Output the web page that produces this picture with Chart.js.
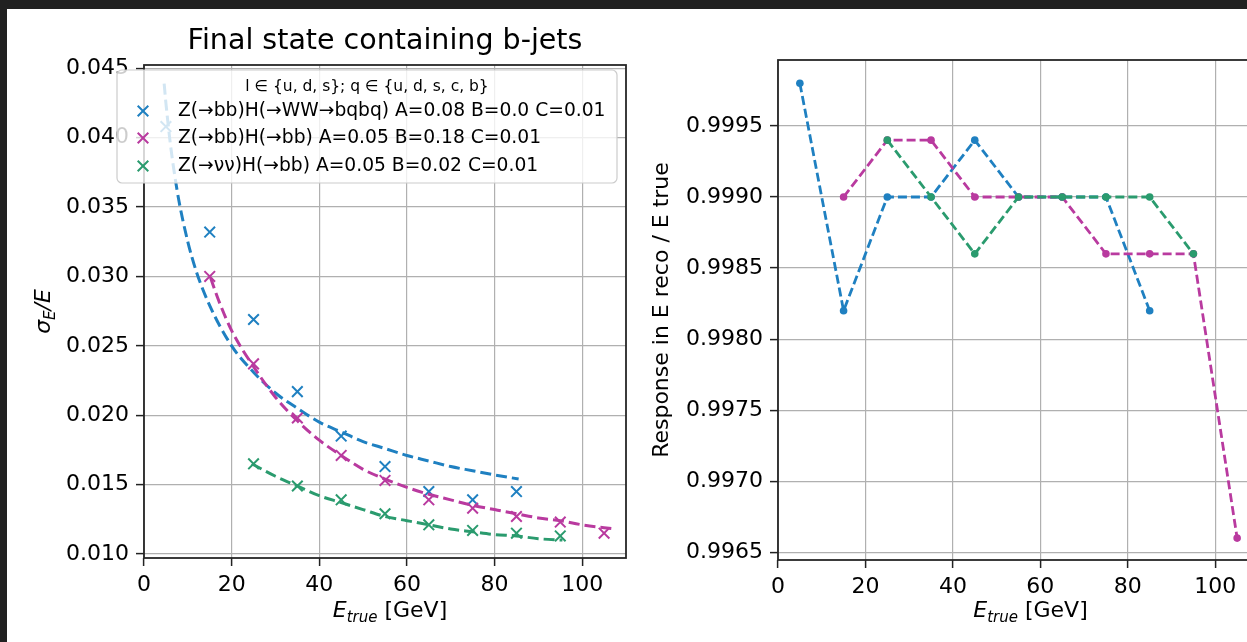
<!DOCTYPE html>
<html>
<head>
<meta charset="utf-8">
<script src="https://cdn.jsdelivr.net/npm/chart.js@4.4.1/dist/chart.umd.min.js"></script>
<style>
  html, body { margin: 0; padding: 0; width: 1247px; height: 642px; overflow: hidden; background: #212121; }
  #sheet { position: absolute; left: 7px; top: 9px; width: 1300px; height: 640px; background: #fff; }
  canvas { position: absolute; }
</style>
</head>
<body>
<div id="sheet"></div>
<canvas id="resChart" width="633" height="633" style="left:7px;top:9px"></canvas>
<canvas id="respChart" width="660" height="633" style="left:640px;top:9px"></canvas>
<script>
// --- data -------------------------------------------------------------
const energiesWW = [5, 15, 25, 35, 45, 55, 65, 75, 85];
const energiesBB = [15, 25, 35, 45, 55, 65, 75, 85, 95, 105];
const energiesNuNu = [25, 35, 45, 55, 65, 75, 85, 95];

// sigma_E / E
const resWW = [0.0408, 0.0332, 0.0269, 0.0217, 0.0185, 0.0163, 0.0145, 0.0139, 0.0145];
const resBB = [0.0300, 0.0237, 0.0198, 0.0171, 0.0153, 0.0139, 0.0133, 0.0127, 0.0123, 0.0115];
const resNuNu = [0.0165, 0.0149, 0.0139, 0.0129, 0.0121, 0.0117, 0.0115, 0.0113];

// fitted resolution curves
const fitWW_E = [4.6, 5, 6, 7, 8, 10, 12, 15, 20, 25, 30, 35, 40, 45, 50, 55, 60, 65, 70, 75, 80, 85.5];
const fitWW = [0.0439, 0.0425, 0.0396, 0.0373, 0.0354, 0.0325, 0.0303, 0.0279, 0.0250, 0.0231, 0.0216,
               0.0205, 0.0195, 0.0188, 0.0181, 0.0176, 0.0171, 0.0167, 0.0163, 0.0160, 0.0157, 0.0154];
const fitBB_E = [15.2, 17, 20, 25, 30, 35, 40, 45, 50, 55, 60, 65, 70, 75, 80, 85, 90, 95, 100, 107.5];
const fitBB = [0.0299, 0.0283, 0.0261, 0.0235, 0.0213, 0.0196, 0.0182, 0.0171, 0.0161, 0.0154,
               0.0148, 0.0143, 0.0139, 0.0135, 0.0132, 0.0129, 0.0126, 0.0124, 0.0121, 0.0118];
const fitNuNu_E = [24.6, 30, 35, 40, 45, 50, 55, 60, 65, 70, 75, 80, 85, 90, 95.5];
const fitNuNu = [0.0165, 0.0156, 0.0149, 0.0142, 0.0137, 0.0132, 0.0127, 0.0124, 0.0121, 0.0118,
                 0.0116, 0.0114, 0.0113, 0.0111, 0.0110];

// E reco / E true
const respWW = [0.9998, 0.9982, 0.9990, 0.9990, 0.9994, 0.9990, 0.9990, 0.9990, 0.9982];
const respBB = [0.9990, 0.9994, 0.9994, 0.9990, 0.9990, 0.9990, 0.9986, 0.9986, 0.9986, 0.9966];
const respNuNu = [0.9994, 0.9990, 0.9986, 0.9990, 0.9990, 0.9990, 0.9990, 0.9986];

const legendTitle = 'l \u2208 {u, d, s}; q \u2208 {u, d, s, c, b}';
const labels = [
  'Z(\u2192bb)H(\u2192WW\u2192bqbq) A=0.08 B=0.0 C=0.01',
  'Z(\u2192bb)H(\u2192bb) A=0.05 B=0.18 C=0.01',
  'Z(\u2192\u03bd\u03bd)H(\u2192bb) A=0.05 B=0.02 C=0.01'
];
const colors = ['#1f80c1', '#b93a9f', '#2a9b6e'];

const FONT = '"DejaVu Sans", sans-serif';
Chart.defaults.font.family = FONT;
Chart.defaults.color = '#000';

const pts = (xs, ys) => xs.map((x, i) => ({ x: x, y: ys[i] }));

// draw a list of text runs centred on cx, baseline y
function drawRich(ctx, parts, cx, y) {
  let total = 0;
  parts.forEach(p => { ctx.font = p.font; total += ctx.measureText(p.text).width; });
  let x = cx - total / 2;
  ctx.textAlign = 'left';
  ctx.textBaseline = 'alphabetic';
  ctx.fillStyle = '#000';
  parts.forEach(p => {
    ctx.font = p.font;
    ctx.fillText(p.text, x, y + (p.dy || 0));
    x += ctx.measureText(p.text).width;
  });
}

function drawFrame(chart) {
  const a = chart.chartArea, ctx = chart.ctx;
  ctx.save();
  ctx.strokeStyle = '#262626';
  ctx.lineWidth = 1.8;
  ctx.strokeRect(a.left, a.top, a.right - a.left, a.bottom - a.top);
  ctx.restore();
}

const eTrue = [
  { text: 'E', font: 'italic 22px ' + FONT },
  { text: 'true', font: 'italic 15px ' + FONT, dy: 5 },
  { text: ' [GeV]', font: '22px ' + FONT }
];

function gridOpts() {
  return { color: '#b0b0b0', lineWidth: 1.2, tickLength: 8, tickColor: '#222', tickWidth: 1.5 };
}

// --- left: energy resolution ------------------------------------------
const resPlugin = {
  id: 'resDecor',
  afterDatasetsDraw(chart) {
    drawFrame(chart);
  },
  afterDraw(chart) {
    const a = chart.chartArea, ctx = chart.ctx;
    const cx = (a.left + a.right) / 2;
    ctx.save();
    ctx.fillStyle = '#000';
    ctx.font = '28.5px ' + FONT;
    ctx.textAlign = 'center';
    ctx.textBaseline = 'alphabetic';
    ctx.fillText('Final state containing b-jets', cx, a.top - 16);
    drawRich(ctx, eTrue, cx + 5, 608);

    ctx.save();
    ctx.translate(43, (a.top + a.bottom) / 2);
    ctx.rotate(-Math.PI / 2);
    drawRich(ctx, [
      { text: '\u03c3', font: 'italic 22px ' + FONT },
      { text: 'E', font: 'italic 15px ' + FONT, dy: 5 },
      { text: '/E', font: 'italic 22px ' + FONT }
    ], 0, 0);
    ctx.restore();

    // legend box
    const bx = 110, by = 61, bw = 500, bh = 113;
    ctx.beginPath();
    ctx.roundRect(bx, by, bw, bh, 5);
    ctx.fillStyle = 'rgba(255,255,255,0.8)';
    ctx.fill();
    ctx.strokeStyle = '#cccccc';
    ctx.lineWidth = 1.2;
    ctx.stroke();

    ctx.fillStyle = '#000';
    ctx.font = '15.5px ' + FONT;
    ctx.textAlign = 'center';
    ctx.textBaseline = 'middle';
    ctx.fillText(legendTitle, 360, 78);

    const rows = [102, 129, 157];
    labels.forEach((t, i) => {
      const mx = 136, my = rows[i], h = 5.3;
      ctx.strokeStyle = colors[i];
      ctx.lineWidth = 2;
      ctx.beginPath();
      ctx.moveTo(mx - h, my - h); ctx.lineTo(mx + h, my + h);
      ctx.moveTo(mx - h, my + h); ctx.lineTo(mx + h, my - h);
      ctx.stroke();
      ctx.fillStyle = '#000';
      ctx.font = '18.7px ' + FONT;
      ctx.textAlign = 'left';
      ctx.textBaseline = 'middle';
      ctx.fillText(t, 171, my);
    });
    ctx.restore();
  }
};

function markerSet(xs, ys, color, order) {
  return {
    data: pts(xs, ys), showLine: false, order: order,
    pointStyle: 'crossRot', pointRadius: 7.5, pointBorderWidth: 2,
    borderColor: color, backgroundColor: color
  };
}
function fitSet(xs, ys, color, order) {
  return {
    data: pts(xs, ys), showLine: true, order: order, pointRadius: 0,
    borderColor: color, borderWidth: 3, borderDash: [11, 5],
    cubicInterpolationMode: 'monotone', fill: false
  };
}

new Chart(document.getElementById('resChart'), {
  type: 'scatter',
  data: {
    datasets: [
      markerSet(energiesWW, resWW, colors[0], 6),
      fitSet(fitWW_E, fitWW, colors[0], 5),
      markerSet(energiesBB, resBB, colors[1], 4),
      fitSet(fitBB_E, fitBB, colors[1], 3),
      markerSet(energiesNuNu, resNuNu, colors[2], 2),
      fitSet(fitNuNu_E, fitNuNu, colors[2], 1)
    ]
  },
  options: {
    responsive: false,
    animation: false,
    events: [],
    layout: { padding: { top: 56, right: 14, left: 0, bottom: 0 } },
    plugins: { legend: { display: false }, tooltip: { enabled: false } },
    scales: {
      x: {
        type: 'linear', min: 0, max: 110,
        afterFit: s => { s.height = 84; },
        ticks: { stepSize: 20, includeBounds: false, padding: 6, font: { size: 22 }, maxRotation: 0 },
        grid: gridOpts(), border: { display: false }
      },
      y: {
        type: 'linear', min: 0.00971, max: 0.04524,
        afterFit: s => { s.width = 137; },
        ticks: { stepSize: 0.005, includeBounds: false, padding: 7, font: { size: 22 },
                 callback: v => v.toFixed(3) },
        grid: gridOpts(), border: { display: false }
      }
    }
  },
  plugins: [resPlugin]
});

// --- right: energy response -------------------------------------------
const respPlugin = {
  id: 'respDecor',
  afterDatasetsDraw(chart) {
    drawFrame(chart);
  },
  afterDraw(chart) {
    const a = chart.chartArea, ctx = chart.ctx;
    ctx.save();
    drawRich(ctx, eTrue, (a.left + a.right) / 2 + 12, 608);
    ctx.translate(28, (a.top + a.bottom) / 2);
    ctx.rotate(-Math.PI / 2);
    drawRich(ctx, [{ text: 'Response in E reco / E true', font: '22px ' + FONT }], 0, 0);
    ctx.restore();
  }
};

function respSet(xs, ys, color, order) {
  return {
    data: pts(xs, ys), showLine: true, order: order,
    borderColor: color, borderWidth: 2.8, borderDash: [9, 4],
    pointRadius: 3.8, pointBorderWidth: 0, pointBackgroundColor: color, fill: false
  };
}

new Chart(document.getElementById('respChart'), {
  type: 'scatter',
  data: {
    datasets: [
      respSet(energiesWW, respWW, colors[0], 3),
      respSet(energiesBB, respBB, colors[1], 2),
      respSet(energiesNuNu, respNuNu, colors[2], 1)
    ]
  },
  options: {
    responsive: false,
    animation: false,
    events: [],
    layout: { padding: { top: 51, right: 41, left: 0, bottom: 0 } },
    plugins: { legend: { display: false }, tooltip: { enabled: false } },
    scales: {
      x: {
        type: 'linear', min: 0, max: 110,
        afterFit: s => { s.height = 82; },
        ticks: { stepSize: 20, includeBounds: false, padding: 6, font: { size: 22 }, maxRotation: 0 },
        grid: gridOpts(), border: { display: false }
      },
      y: {
        type: 'linear', min: 0.996446, max: 0.999964,
        afterFit: s => { s.width = 138; },
        ticks: { stepSize: 0.0005, includeBounds: false, padding: 7, font: { size: 22 },
                 callback: v => v.toFixed(4) },
        grid: gridOpts(), border: { display: false }
      }
    }
  },
  plugins: [respPlugin]
});
</script>
</body>
</html>
